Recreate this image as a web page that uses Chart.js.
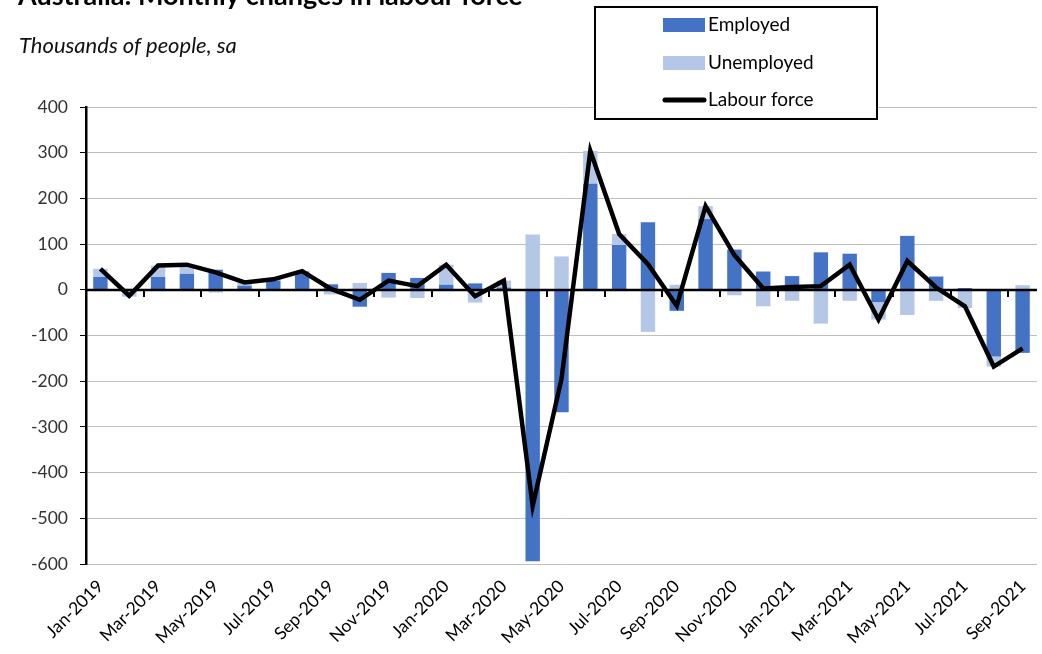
<!DOCTYPE html>
<html>
<head>
<meta charset="utf-8">
<script src="https://cdn.jsdelivr.net/npm/chart.js@4"></script>
<style>
  html, body { margin: 0; padding: 0; background: #fff; }
  #wrap { position: relative; width: 1042px; height: 654px; overflow: hidden; }
  #title { position: absolute; left: 18px; top: -19px; font: bold 27px/27px Lato, sans-serif; color: #000; white-space: nowrap; }
  #sub { position: absolute; left: 19px; top: 31px; font: italic 22px Lato, sans-serif; color: #111; white-space: nowrap; }
  canvas { position: absolute; left: 0; top: 0; }
</style>
</head>
<body>
<div id="wrap">
  <canvas id="chart" width="1042" height="654"></canvas>
  <div id="title">Australia: Monthly changes in labour force</div>
  <div id="sub">Thousands of people, sa</div>
</div>
<script>
const months = ['Jan-2019','Feb-2019','Mar-2019','Apr-2019','May-2019','Jun-2019','Jul-2019','Aug-2019','Sep-2019','Oct-2019','Nov-2019','Dec-2019',
  'Jan-2020','Feb-2020','Mar-2020','Apr-2020','May-2020','Jun-2020','Jul-2020','Aug-2020','Sep-2020','Oct-2020','Nov-2020','Dec-2020',
  'Jan-2021','Feb-2021','Mar-2021','Apr-2021','May-2021','Jun-2021','Jul-2021','Aug-2021','Sep-2021'];
const employed = [28, 2, 28, 35, 44, 9, 20, 40, 12, -37, 37, 26, 11, 14, 5, -594, -268, 232, 98, 148, -46, 155, 88, 40, 30, 82, 79, -27, 118, 29, 4, -146, -138];
const unemployed = [18, -15, 25, 17, -6, 7, 3, 1, -10, 15, -17, -18, 44, -28, 15, 121, 73, 72, 24, -92, 11, 28, -12, -36, -24, -74, -24, -38, -55, -24, -40, -22, 10];
const labourForce = [46, -13, 53, 55, 38, 16, 23, 41, 2, -22, 20, 8, 55, -14, 20, -473, -195, 304, 122, 56, -35, 183, 76, 3, 6, 8, 55, -65, 63, 5, -36, -168, -128];
const yTicks = [400, 300, 200, 100, 0, -100, -200, -300, -400, -500, -600];

const darkBlue = '#4472C4';
const lightBlue = '#B4C7E7';

// horizontal axis crossing at zero, with a tick mark every second month
const zeroAxis = {
  id: 'zeroAxis',
  afterDatasetsDraw(chart) {
    const x = chart.scales.x, y = chart.scales.y, ctx = chart.ctx;
    const y0 = Math.round(y.getPixelForValue(0));
    ctx.save();
    ctx.strokeStyle = '#000';
    ctx.lineWidth = 2.5;
    ctx.beginPath();
    ctx.moveTo(chart.chartArea.left, y0);
    ctx.lineTo(chart.chartArea.right, y0);
    ctx.stroke();
    ctx.lineWidth = 2;
    for (let i = 2; i < months.length; i += 2) {
      const px = Math.round((x.getPixelForValue(i - 1) + x.getPixelForValue(i)) / 2);
      ctx.beginPath();
      ctx.moveTo(px, y0);
      ctx.lineTo(px, y0 + 7);
      ctx.stroke();
    }
    ctx.restore();
  }
};

// boxed legend in the top right, drawn over the grid
const boxLegend = {
  id: 'boxLegend',
  afterDraw(chart) {
    const ctx = chart.ctx;
    ctx.save();
    ctx.fillStyle = '#fff';
    ctx.fillRect(595, 7, 282, 112);
    ctx.strokeStyle = '#000';
    ctx.lineWidth = 2;
    ctx.strokeRect(595, 7, 282, 112);
    ctx.font = '19px Lato, sans-serif';
    ctx.textBaseline = 'middle';
    ctx.fillStyle = darkBlue;
    ctx.fillRect(663, 18, 42, 14);
    ctx.fillStyle = lightBlue;
    ctx.fillRect(663, 56, 42, 14);
    ctx.strokeStyle = '#000';
    ctx.lineWidth = 5;
    ctx.lineCap = 'round';
    ctx.beginPath();
    ctx.moveTo(665, 100);
    ctx.lineTo(704, 100);
    ctx.stroke();
    ctx.fillStyle = '#000';
    ctx.fillText('Employed', 708, 25);
    ctx.fillText('Unemployed', 708, 63);
    ctx.fillText('Labour force', 708, 100);
    ctx.restore();
  }
};

new Chart(document.getElementById('chart'), {
  plugins: [zeroAxis, boxLegend],
  data: {
    labels: months,
    datasets: [
      { type: 'bar', label: 'Employed', data: employed, backgroundColor: darkBlue, stack: 'lab', order: 1,
        barPercentage: 0.5, categoryPercentage: 1 },
      { type: 'bar', label: 'Unemployed', data: unemployed, backgroundColor: lightBlue, stack: 'lab', order: 1,
        barPercentage: 0.5, categoryPercentage: 1 },
      { type: 'line', label: 'Labour force', data: labourForce, borderColor: '#000', borderWidth: 4.5,
        pointRadius: 0, tension: 0, stack: 'lf', order: 0, borderJoinStyle: 'miter' }
    ]
  },
  options: {
    responsive: false,
    animation: false,
    layout: { padding: { left: 0, top: 107, right: 5, bottom: 0 } },
    plugins: {
      legend: { display: false },
      tooltip: { enabled: false }
    },
    scales: {
      x: {
        stacked: true,
        grid: { display: false },
        border: { display: false },
        ticks: {
          autoSkip: false, maxRotation: 45, minRotation: 45, color: '#000',
          font: { family: 'Lato', size: 17.5 }, padding: 4,
          callback: function(v, i) { return i % 2 === 0 ? months[i] : ''; }
        },
        afterFit: function(s) { s.height = 90; }
      },
      y: {
        stacked: true,
        min: -600, max: 400,
        afterBuildTicks: function(s) { s.ticks = yTicks.map(v => ({ value: v })); },
        grid: {
          color: '#bfbfbf',
          lineWidth: 1, tickLength: 6, tickColor: '#000'
        },
        border: { display: true, color: '#000', width: 2.5 },
        ticks: { color: '#333', font: { family: 'Lato', size: 17.5 }, padding: 12 },
        afterFit: function(s) { s.width = 86; }
      }
    }
  }
});
</script>
</body>
</html>
